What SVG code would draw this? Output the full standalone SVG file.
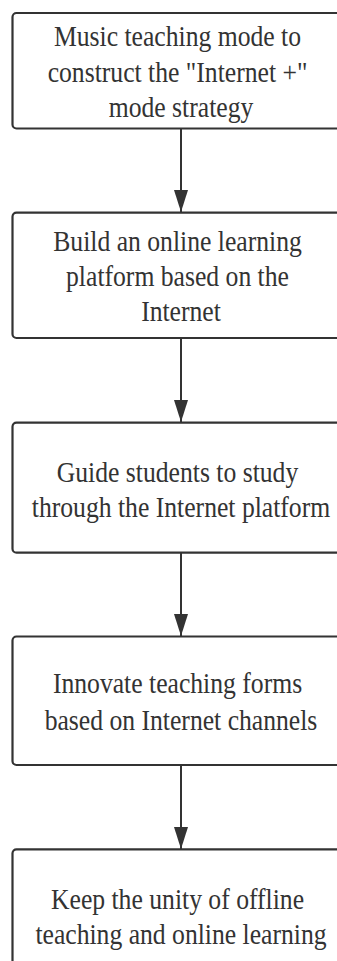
<svg xmlns="http://www.w3.org/2000/svg" width="337" height="961" viewBox="0 0 337 961">
<style>
.box{fill:#fff;stroke:#333;stroke-width:2.2}
.t{font-family:'Liberation Serif','Times New Roman',Times,'DejaVu Serif',serif;font-size:29.5px;fill:#333;text-anchor:middle}
.c{stroke:#333;stroke-width:2;fill:none}
</style>
<defs>
<marker id="ah" markerUnits="userSpaceOnUse" markerWidth="22" markerHeight="14" refX="22" refY="7" orient="auto" viewBox="0 0 22 14">
<path d="M0,0 L22,7 L0,14 Z" fill="#333"/>
</marker>
</defs>
<rect width="337" height="961" fill="#fff"/>
<g id="connectors">
<line class="c" x1="181" y1="129" x2="181" y2="212" marker-end="url(#ah)"/>
<line class="c" x1="181" y1="338" x2="181" y2="422" marker-end="url(#ah)"/>
<line class="c" x1="181" y1="553" x2="181" y2="636" marker-end="url(#ah)"/>
<line class="c" x1="181" y1="765" x2="181" y2="849" marker-end="url(#ah)"/>
</g>
<g id="n1">
<rect class="box" x="12.5" y="13" width="337" height="115.5" rx="4"/>
<text class="t" font-family="Liberation Serif, serif" transform="translate(177.5 46) scale(0.87 1)">Music teaching mode to</text>
<text class="t" font-family="Liberation Serif, serif" transform="translate(177.5 81.5) scale(0.87 1)">construct the "Internet +"</text>
<text class="t" font-family="Liberation Serif, serif" transform="translate(181 116.7) scale(0.87 1)">mode strategy</text>
</g>
<g id="n2">
<rect class="box" x="12.5" y="212.7" width="337" height="125.3" rx="4"/>
<text class="t" transform="translate(177.5 251) scale(0.87 1)">Build an online learning</text>
<text class="t" transform="translate(177.5 286) scale(0.87 1)">platform based on the</text>
<text class="t" transform="translate(181 321) scale(0.87 1)">Internet</text>
</g>
<g id="n3">
<rect class="box" x="12.5" y="422.7" width="337" height="130" rx="4"/>
<text class="t" transform="translate(177.5 481.7) scale(0.87 1)">Guide students to study</text>
<text class="t" transform="translate(181 516.5) scale(0.87 1)">through the Internet platform</text>
</g>
<g id="n4">
<rect class="box" x="12.5" y="636.5" width="337" height="128.5" rx="4"/>
<text class="t" transform="translate(177.5 693.3) scale(0.87 1)">Innovate teaching forms</text>
<text class="t" transform="translate(181 730) scale(0.87 1)">based on Internet channels</text>
</g>
<g id="n5">
<rect class="box" x="12.5" y="849.3" width="337" height="128.5" rx="4"/>
<text class="t" transform="translate(177.5 908.5) scale(0.87 1)">Keep the unity of offline</text>
<text class="t" transform="translate(181 943.5) scale(0.87 1)">teaching and online learning</text>
</g>
</svg>
